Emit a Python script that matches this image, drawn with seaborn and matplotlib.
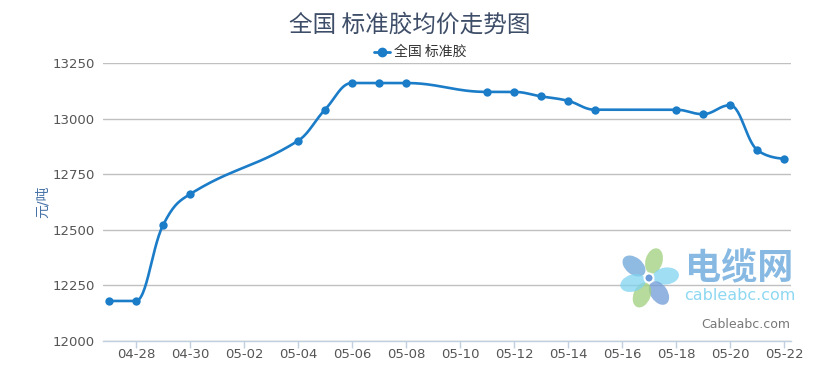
import numpy as np
import pandas as pd
import matplotlib
matplotlib.use("Agg")
import matplotlib.pyplot as plt
import seaborn as sns
from matplotlib.patches import Ellipse, Circle

dates = ["04-27", "04-28", "04-29", "04-30", "05-04", "05-05", "05-06", "05-07",
         "05-08", "05-11", "05-12", "05-13", "05-14", "05-15", "05-18", "05-19",
         "05-20", "05-21", "05-22"]
prices = [12180, 12180, 12520, 12660, 12900, 13040, 13160, 13160,
          13160, 13120, 13120, 13100, 13080, 13040, 13040, 13020,
          13060, 12860, 12820]
tick_labels = ["04-28", "04-30", "05-02", "05-04", "05-06", "05-08", "05-10",
               "05-12", "05-14", "05-16", "05-18", "05-20", "05-22"]
y_ticks = [12000, 12250, 12500, 12750, 13000, 13250]
title = "全国 标准胶均价走势图"
series_name = "全国 标准胶"
y_label = "元/吨"

sns.set_theme(style="white")
plt.rcParams['font.family'] = ['DejaVu Sans', 'Noto Sans CJK SC']

base = pd.Timestamp("2015-04-27")
def to_day(s):
    return (pd.Timestamp("2015-" + s) - base).days

x = np.array([to_day(d) for d in dates], dtype=float)
y = np.array(prices, dtype=float)
df = pd.DataFrame({"day": x, "price": y})

# Highcharts-style spline control points
def spline_curve(xs, ys, smoothing=1.5, n=30):
    N = len(xs)
    left = [None] * N
    right = [None] * N
    for i in range(N):
        if 0 < i < N - 1:
            lx, ly = xs[i - 1], ys[i - 1]
            nx, ny = xs[i + 1], ys[i + 1]
            px, py = xs[i], ys[i]
            d = smoothing + 1
            lcx = (smoothing * px + lx) / d
            lcy = (smoothing * py + ly) / d
            rcx = (smoothing * px + nx) / d
            rcy = (smoothing * py + ny) / d
            corr = ((rcy - lcy) * (rcx - px)) / (rcx - lcx) + py - rcy
            lcy += corr
            rcy += corr
            if lcy > max(ly, py):
                lcy = max(ly, py); rcy = 2 * py - lcy
            elif lcy < min(ly, py):
                lcy = min(ly, py); rcy = 2 * py - lcy
            if rcy > max(py, ny):
                rcy = max(py, ny); lcy = 2 * py - rcy
            elif rcy < min(py, ny):
                rcy = min(py, ny); lcy = 2 * py - rcy
            left[i] = (lcx, lcy)
            right[i] = (rcx, rcy)
        else:
            left[i] = (xs[i], ys[i])
            right[i] = (xs[i], ys[i])
    cx, cy = [xs[0]], [ys[0]]
    t = np.linspace(0, 1, n)[1:]
    for i in range(1, N):
        p0 = np.array([xs[i - 1], ys[i - 1]])
        p1 = np.array(right[i - 1])
        p2 = np.array(left[i])
        p3 = np.array([xs[i], ys[i]])
        pts = ((1 - t)[:, None] ** 3 * p0 + 3 * ((1 - t) ** 2 * t)[:, None] * p1
               + 3 * ((1 - t) * t ** 2)[:, None] * p2 + (t ** 3)[:, None] * p3)
        cx.extend(pts[:, 0]); cy.extend(pts[:, 1])
    return np.array(cx), np.array(cy)

sx, sy = spline_curve(x, y)
curve = pd.DataFrame({"day": sx, "price": sy})

fig = plt.figure(figsize=(8.28, 3.70), dpi=100)
ax = fig.add_axes([103 / 828, 1 - 341 / 370, (791 - 103) / 828, (341 - 63) / 370])

color = "#1b7cc8"
ax.plot(curve["day"], curve["price"], color=color, lw=1.9, zorder=3, solid_capstyle="round")
sns.scatterplot(data=df, x="day", y="price", ax=ax, color=color, s=36,
                edgecolor=color, linewidth=0, zorder=4, legend=False)

ax.set_xlim(-0.22, 25.26)
ax.set_ylim(12000, 13250)
ax.set_yticks(y_ticks)
ax.set_yticklabels([str(v) for v in y_ticks])
ax.set_xticks([to_day(t) for t in tick_labels])
ax.set_xticklabels(tick_labels)
ax.grid(axis="y", color="#c0c0c0", lw=1)
ax.grid(axis="x", visible=False)
for s in ["top", "right", "left"]:
    ax.spines[s].set_visible(False)
ax.spines["bottom"].set_color("#c0d0e0")
ax.spines["bottom"].set_linewidth(1)
ax.tick_params(axis="x", direction="out", length=5, color="#c0d0e0", width=1,
               labelsize=9.5, labelcolor="#555555", pad=0, bottom=True)
ax.tick_params(axis="y", length=0, labelsize=9.5, labelcolor="#555555", pad=6)
ax.set_xlabel("")
ax.set_ylabel(y_label, color="#4572a7", fontsize=10)
ax.yaxis.set_label_coords(-0.078, 0.5)

fig.text(0.495, 1 - 25 / 370, title, ha="center", va="center", fontsize=17,
         color="#3e4e68", family=['Noto Sans CJK SC', 'DejaVu Sans'])
# legend
fig.add_artist(plt.Line2D([374 / 828, 390 / 828], [1 - 52 / 370] * 2, color=color, lw=2))
fig.add_artist(plt.Line2D([382 / 828], [1 - 52 / 370], marker="o", color=color, ms=6))
fig.text(394 / 828, 1 - 52 / 370, series_name, ha="left", va="center", fontsize=10,
         color="#333333", family=['Noto Sans CJK SC', 'DejaVu Sans'])

# watermark logo
wax = fig.add_axes([0, 0, 1, 1], zorder=5)
wax.set_xlim(0, 828); wax.set_ylim(370, 0); wax.axis("off")
cx0, cy0 = 649, 278
petals = [(-15, -12, "#6aa3d8"), (5, -17, "#9fd07c"), (17, -2, "#7fd3f0"),
          (10, 15, "#6f9bd8"), (-7, 17, "#9fd07c"), (-16, 5, "#7fd3f0")]
for dx, dy, c in petals:
    ang = np.degrees(np.arctan2(dy, dx))
    wax.add_patch(Ellipse((cx0 + dx, cy0 + dy), 26, 17, angle=ang, color=c, alpha=0.75, lw=0))
wax.add_patch(Circle((cx0, cy0), 5.5, color="white", lw=0))
wax.add_patch(Circle((cx0, cy0), 3.5, color="#6f9bd8", lw=0))
wax.text(739, 268, "电缆网", ha="center", va="center", fontsize=26, color="#7ab2e0",
         fontweight="bold", family=['Noto Sans CJK SC', 'DejaVu Sans'], alpha=0.9)
wax.text(740, 296, "cableabc.com", ha="center", va="center", fontsize=11.5,
         color="#8ed8f2", family=['DejaVu Sans'])
wax.text(790, 324, "Cableabc.com", ha="right", va="center", fontsize=9,
         color="#777777")

fig.savefig("out.png", dpi=100)
